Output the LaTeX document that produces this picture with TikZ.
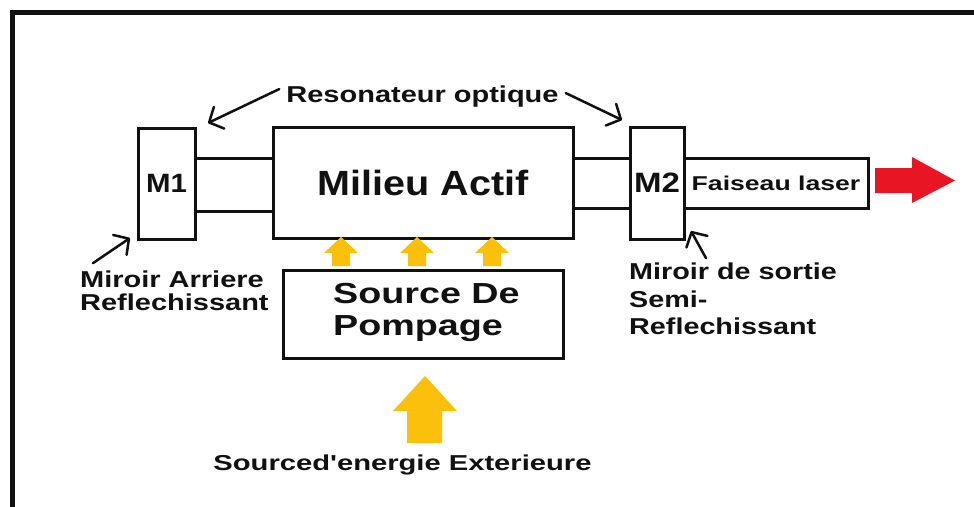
\documentclass[tikz,border=0pt]{standalone}
\usepackage{graphicx}
\usepackage{fontspec}
\setmainfont{Liberation Sans}
\usetikzlibrary{arrows.meta}

\definecolor{pumpyellow}{RGB}{250,192,12}
\definecolor{beamred}{RGB}{232,22,36}
\definecolor{inkblack}{RGB}{17,17,17}

% horizontally widened bold lettering
\newcommand{\wtext}[2]{\scalebox{#1}[1]{#2}}
\newcommand{\fsz}[1]{\fontsize{#1}{#1}\selectfont\bfseries}

\begin{document}
\begin{tikzpicture}[x=1pt,y=-1pt,
  box/.style={draw=inkblack, line width=3pt, inner sep=0pt, text=inkblack},
  tube/.style={draw=inkblack, line width=3pt},
  lbl/.style={inner sep=0pt, anchor=base west, text=inkblack},
  ann/.style={draw=inkblack, line width=2.5pt, line cap=round,
    -{Straight Barb[length=11pt,width=24pt,line width=2.5pt,round]}},
  pump/.style={fill=pumpyellow},
  beam/.style={fill=beamred}]

\useasboundingbox (0,0) rectangle (974,506);
\clip (0,0) rectangle (974,506);
\fill[white] (0,0) rectangle (974,506);

% outer frame
\draw[inkblack, line width=5pt] (12,12) rectangle (1000,540);

% laser cavity
\node[box, minimum width=57pt, minimum height=111pt, font=\fsz{26.5}] (m1) at (166.5,183.5) {\wtext{1.11}{M1}};
\node[box, minimum width=300pt, minimum height=111pt, font=\fsz{35}] (ma) at (423,182.5) {\wtext{1.13}{Milieu Actif}};
\node[box, minimum width=54pt, minimum height=112pt, font=\fsz{28}] (m2) at (657,183) {\wtext{1.18}{M2}};
\node[box, minimum width=184pt, minimum height=50pt, font=\fsz{20}] (fl) at (776,183) {\wtext{1.33}{Faiseau laser}};

% tubes joining mirrors and active medium
\coordinate (tubeTop) at (0,158);
\coordinate (tubeBotL) at (0,211);
\coordinate (tubeBotR) at (0,208);
\draw[tube] (m1.east |- tubeTop) -- (ma.west |- tubeTop);
\draw[tube] (m1.east |- tubeBotL) -- (ma.west |- tubeBotL);
\draw[tube] (ma.east |- tubeTop) -- (m2.west |- tubeTop);
\draw[tube] (ma.east |- tubeBotR) -- (m2.west |- tubeBotR);

% pump source
\node[box, minimum width=280pt, minimum height=88pt] (sp) at (423,314) {};
\node[lbl, font=\fsz{29}] (sp1) at (333,303) {\wtext{1.3}{Source De}};
\node[lbl, font=\fsz{29}] (sp2) at (333,335) {\wtext{1.3}{Pompage}};

% pump arrows into the active medium
\foreach \cx in {341,417,492}{
  \fill[pump] (\cx,237) -- (\cx+17,253) -- (\cx+9,253) -- (\cx+9,266)
    -- (\cx-9,266) -- (\cx-9,253) -- (\cx-17,253) -- cycle;
}

% external energy arrow
\fill[pump] (425,376) -- (457,411) -- (442,411) -- (442,443)
  -- (407,443) -- (407,411) -- (393,411) -- cycle;
\node[inner sep=0pt, anchor=base, text=inkblack, font=\fsz{21.6}] (ext) at (402.5,470)
  {\wtext{1.35}{Sourced\textquotesingle energie Exterieure}};

% output beam
\fill[beam] (875,168) -- (912,168) -- (912,157) -- (955,180.5)
  -- (912,203) -- (912,193) -- (875,193) -- cycle;

% resonator label
\node[inner sep=0pt, anchor=base, text=inkblack, font=\fsz{23}] (res) at (422.5,102)
  {\wtext{1.26}{Resonateur optique}};
\coordinate (tipL) at (208,123);
\coordinate (tipR) at (622,120);
\draw[ann] ([xshift=-7pt,yshift=7pt]res.west) -- (tipL);
\draw[ann] ([xshift=7pt,yshift=3pt]res.east) -- (tipR);

% mirror labels
\node[lbl, font=\fsz{23}] (mar1) at (80,287) {\wtext{1.26}{Miroir Arriere}};
\node[lbl, font=\fsz{23}] (mar2) at (80,310) {\wtext{1.26}{Reflechissant}};
\coordinate (tipM1) at (130,238);
\draw[ann] ([shift={(13pt,7pt)}]mar1.north west) -- (tipM1);

\node[lbl, font=\fsz{23}] (mds1) at (629,279) {\wtext{1.25}{Miroir de sortie}};
\node[lbl, font=\fsz{23}] (mds2) at (629,307) {\wtext{1.25}{Semi-}};
\node[lbl, font=\fsz{23}] (mds3) at (629,334) {\wtext{1.25}{Reflechissant}};
\coordinate (tipM2) at (691,231);
\draw[ann] ([shift={(77pt,4pt)}]mds1.north west) -- (tipM2);

\end{tikzpicture}
\end{document}
